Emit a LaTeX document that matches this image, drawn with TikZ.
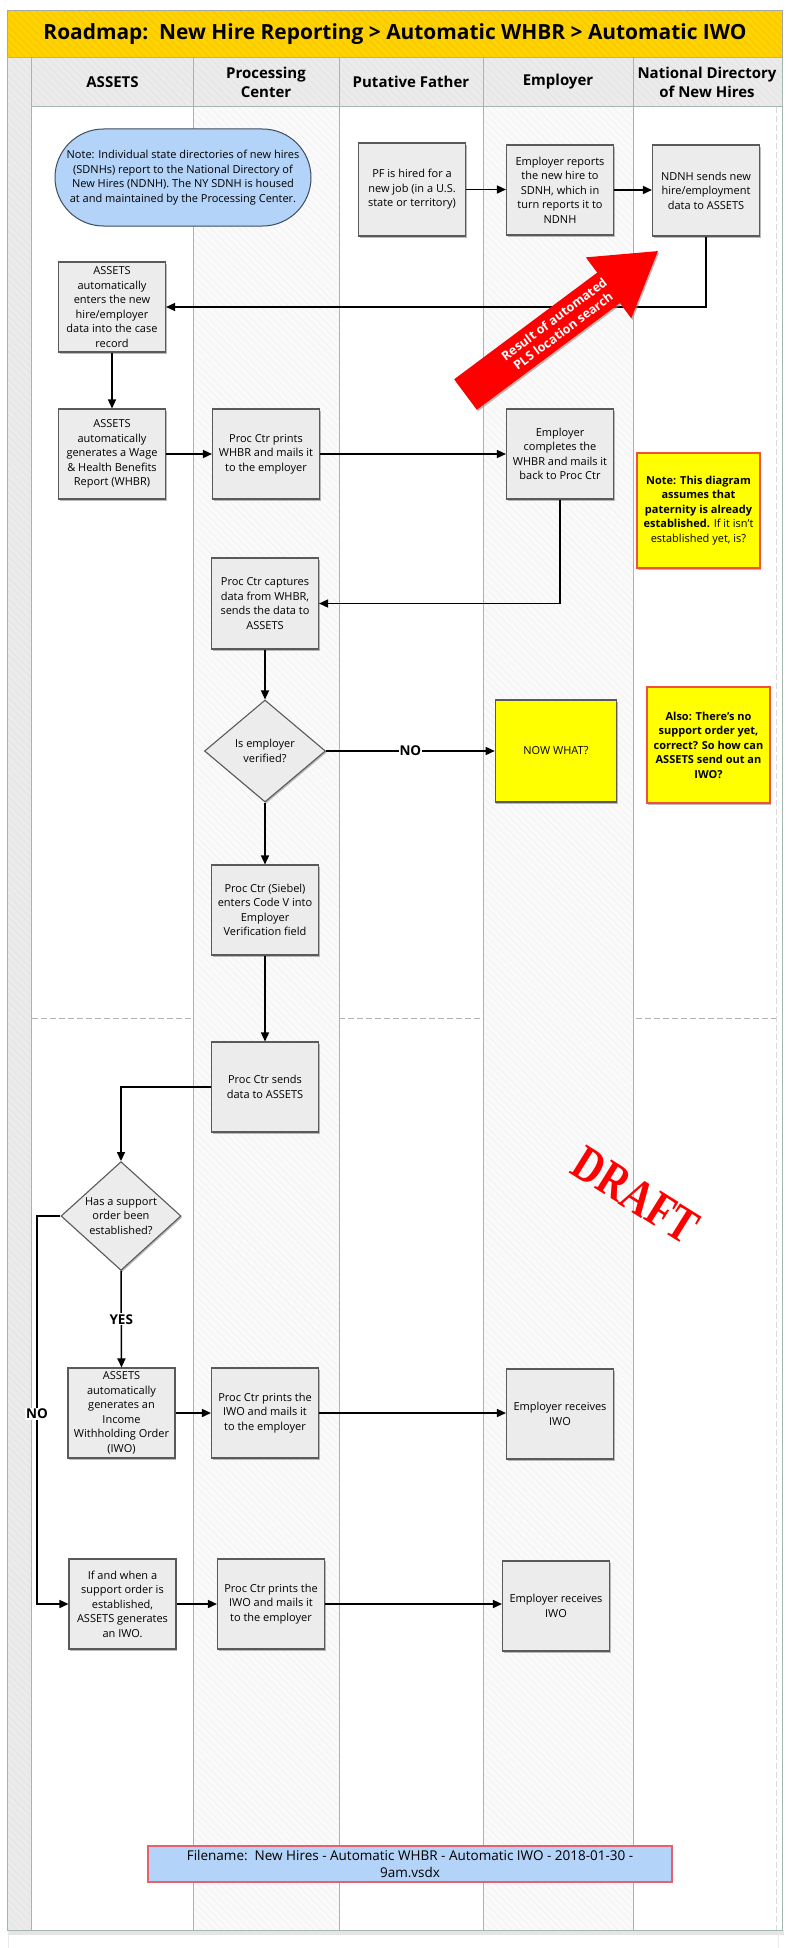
\documentclass[tikz,border=0pt]{standalone}
\usepackage{fontspec}
\usepackage{graphicx}
\setmainfont{Open Sans}
\newfontfamily\draftfont{Liberation Serif}
\usetikzlibrary{arrows.meta,shapes.geometric,shapes.misc,shadows,patterns.meta}
\definecolor{titlefill}{HTML}{FFD200}
\definecolor{titlehatch}{HTML}{F2C400}
\definecolor{headfill}{HTML}{EBEBEB}
\definecolor{hatchcol}{HTML}{E2E2E2}
\definecolor{lanehatch}{HTML}{F1F1F1}
\definecolor{laneline}{HTML}{A5B6AF}
\definecolor{boxfill}{HTML}{ECECEC}
\definecolor{boxline}{HTML}{5A5A5A}
\definecolor{noteyellow}{HTML}{FFFF00}
\definecolor{notered}{HTML}{F0503C}
\definecolor{bluefill}{HTML}{B3D3F8}
\definecolor{blueline}{HTML}{3E4C5E}
\definecolor{fileline}{HTML}{E8606C}
\definecolor{arrowred}{HTML}{FF0000}
\newcommand{\myBody}{\fontsize{11}{14.5}\selectfont}
\newcommand{\myBold}{\fontsize{11}{14.5}\selectfont\bfseries}
\newcommand{\myHead}{\fontsize{15}{19}\selectfont\bfseries}
\newcommand{\myTitle}{\fontsize{20.9}{23}\selectfont\bfseries}
\newcommand{\myLbl}{\fontsize{13.5}{15}\selectfont\bfseries}
\newcommand{\myFile}{\fontsize{13.5}{17}\selectfont}
\newcommand{\myArr}{\fontsize{12.5}{15}\selectfont\bfseries}
\begin{document}
\begin{tikzpicture}[x=1pt,y=-1pt,
  hatch/.style={pattern={Lines[angle=-45,distance=5pt,line width=0.6pt]},pattern color=#1},
  shade/.style={drop shadow={shadow xshift=1.2pt,shadow yshift=-1.6pt,fill=black!45,opacity=0.6}},
  proc/.style={shade,draw=boxline,line width=1.1pt,fill=boxfill,minimum width=107pt,minimum height=90pt,align=center,inner sep=1pt,font=\myBody},
  decision/.style={shade,diamond,draw=boxline,line width=1.1pt,fill=boxfill,minimum width=121pt,minimum height=102pt,align=center,inner sep=0pt,font=\myBody},
  notebox/.style={shade,draw=notered,line width=2pt,fill=noteyellow,minimum width=123pt,align=center,inner sep=1pt,font=\myBody},
  flow/.style={line width=1.5pt,-{Triangle[length=9pt,width=8pt]}},
  lbl/.style={fill=white,inner sep=1pt,font=\myLbl},
  hdr/.style={font=\myHead,align=center}]
\useasboundingbox (0,0) rectangle (789,1948);
\fill[white] (0,0) rectangle (789,1948);
% page shadow
\fill[black!10] (9,1930) rectangle (784,1935);
\draw[black!8,line width=0.6pt] (8,1930) -- (8,1948) (778,1930) -- (778,1948);
% title bar
\fill[titlefill] (7.5,10.7) rectangle (782,57.7);
\fill[hatch=titlehatch] (7.5,10.7) rectangle (782,57.7);
\draw[black!35,line width=0.8pt] (7.5,10.7) rectangle (782,57.7);
% left strip
\fill[headfill] (7.5,57.7) rectangle (31.7,1930);
\fill[hatch=hatchcol] (7.5,57.7) rectangle (31.7,1930);
% header row
\fill[headfill] (31.7,57.7) rectangle (782,107);
\fill[hatch=hatchcol] (31.7,57.7) rectangle (782,107);
% hatched lanes
\fill[white!98!black] (193.3,107) rectangle (339,1930);
\fill[hatch=lanehatch] (193.3,107) rectangle (339,1930);
\fill[white!98!black] (483,107) rectangle (633,1930);
\fill[hatch=lanehatch] (483,107) rectangle (633,1930);
% dashed separators
\draw[black!30,line width=0.9pt,dash pattern=on 6pt off 3pt] (31.7,1018) -- (193.3,1018);
\draw[black!30,line width=0.9pt,dash pattern=on 6pt off 3pt] (339,1018) -- (480,1018);
\draw[black!30,line width=0.9pt,dash pattern=on 6pt off 3pt] (636,1018) -- (778,1018);
\draw[black!15,line width=0.6pt,dash pattern=on 6pt off 3pt] (776,107) -- (776,1930);
% lane lines
\draw[laneline,line width=1pt] (7.5,57.7) rectangle (782,1930);
\foreach \lx in {31.7,193.3,339,483,633} \draw[laneline,line width=1pt] (\lx,57.7) -- (\lx,1930);
\draw[laneline,line width=1pt] (31.7,107) -- (782,107);
% title and headers
\node[font=\myTitle] (title) at (395,34) {Roadmap:\ \ New Hire Reporting > Automatic WHBR > Automatic IWO};
\node[hdr] (hA) at (112.5,82) {ASSETS};
\node[hdr] (hP) at (266,82) {Processing\\Center};
\node[hdr] (hF) at (411,82) {Putative Father};
\node[hdr] (hE) at (558,82) {Employer};
\node[hdr] (hN) at (707,82) {National Directory\\of New Hires};
% nodes
\node[rounded rectangle,draw=blueline,line width=1pt,fill=bluefill,minimum width=258pt,minimum height=97pt,align=center,inner sep=1pt,font=\myBody] (note) at (183,177.5)
  {Note: Individual state directories of new hires\\(SDNHs) report to the National Directory of\\New Hires (NDNH). The NY SDNH is housed\\at and maintained by the Processing Center.};
\node[proc,minimum height=93pt] (pf) at (412,189.5) {PF is hired for a\\new job (in a U.S.\\state or territory)};
\node[proc] (emp1) at (560,190) {Employer reports\\the new hire to\\SDNH, which in\\turn reports it to\\NDNH};
\node[proc,minimum height=91pt] (ndnh1) at (706,190.5) {NDNH sends new\\hire/employment\\data to ASSETS};
\node[proc] (a1) at (112,307) {ASSETS\\automatically\\enters the new\\hire/employer\\data into the case\\record};
\node[proc] (a2) at (112,454) {ASSETS\\automatically\\generates a Wage\\\& Health Benefits\\Report (WHBR)};
\node[proc] (p1) at (266,454) {Proc Ctr prints\\WHBR and mails it\\to the employer};
\node[proc] (emp2) at (560,454) {Employer\\completes the\\WHBR and mails it\\back to Proc Ctr};
\node[notebox,minimum height=115pt] (n1) at (698.5,510.5) {\myBold Note: This diagram\\\myBold assumes that\\\myBold paternity is already\\{\myBold established.} If it isn’t\\established yet, is?};
\node[proc,minimum height=91pt] (p2) at (265,603.5) {Proc Ctr captures\\data from WHBR,\\sends the data to\\ASSETS};
\node[decision] (d1) at (265,751) {Is employer\\verified?};
\node[shade,draw=boxline,line width=1.1pt,fill=noteyellow,minimum width=121.5pt,minimum height=102pt,font=\myBody] (nowwhat) at (556,751) {NOW WHAT?};
\node[notebox,minimum height=116pt,font=\myBold] (also) at (708.5,745) {Also: There’s no\\support order yet,\\correct? So how can\\ASSETS send out an\\IWO?};
\node[proc] (p3) at (265,910) {Proc Ctr (Siebel)\\enters Code V into\\Employer\\Verification field};
\node[proc] (p4) at (265,1087) {Proc Ctr sends\\data to ASSETS};
\node[decision,minimum width=120pt,minimum height=103pt] (d2) at (121,1216) {Has a support\\order been\\established?};
\node[proc] (a3) at (121.5,1413) {ASSETS\\automatically\\generates an\\Income\\Withholding Order\\(IWO)};
\node[proc] (p5) at (265,1413) {Proc Ctr prints the\\IWO and mails it\\to the employer};
\node[proc] (emp3) at (560,1414) {Employer receives\\IWO};
\node[proc] (a4) at (122.5,1604) {If and when a\\support order is\\established,\\ASSETS generates\\an IWO.};
\node[proc] (p6) at (271,1604) {Proc Ctr prints the\\IWO and mails it\\to the employer};
\node[proc] (emp4) at (556,1606) {Employer receives\\IWO};
\node[draw=fileline,line width=1.5pt,fill=bluefill,minimum width=524pt,minimum height=36pt,align=center,inner sep=1pt,font=\myFile] (fname) at (410,1864)
  {Filename:\ \ New Hires - Automatic WHBR - Automatic IWO - 2018-01-30 -\\9am.vsdx};
% connectors
\draw[flow] (pf.east) -- (pf.east -| emp1.west);
\draw[flow] (emp1.east) -- (emp1.east -| ndnh1.west);
\draw[flow] (ndnh1.south) |- (a1.east);
\draw[flow] (a1.south) -- (a2.north);
\draw[flow] (a2.east) -- (p1.west);
\draw[flow] (p1.east) -- (emp2.west);
\draw[flow] (emp2.south) |- (p2.east);
\draw[flow] (p2.south) -- (d1.north);
\draw[flow] (d1.east) -- node[lbl] (no1) {NO} (nowwhat.west);
\draw[flow] (d1.south) -- (p3.north);
\draw[flow] (p3.south) -- (p4.north);
\draw[flow] (p4.west) -| (d2.north);
\draw[flow] (d2.south) -- node[lbl] (yes1) {YES} (a3.north);
\coordinate (nocorner) at (37,1216);
\draw[flow] (d2.west) -- (nocorner) |- (a4.west);
\node[lbl] (no2) at (37,1414) {NO};
\draw[flow] (a3.east) -- (p5.west);
\draw[flow] (p5.east) -- (p5.east -| emp3.west);
\draw[flow] (a4.east) -- (p6.west);
\draw[flow] (p6.east) -- (p6.east -| emp4.west);
% red arrow
\begin{scope}[shift={(465.5,394.5)},rotate=36.7]
  \fill[arrowred,shade] (0,-19) -- (178.5,-19) -- (178.5,-38) -- (240,0) -- (178.5,38) -- (178.5,19) -- (0,19) -- cycle;
  \node[text=white,font=\myArr,align=center,rotate=36.7,inner sep=0pt] (pls) at (116,0) {Result of automated\\PLS location search};
\end{scope}
% draft stamp
\node[text=red,rotate=-32,inner sep=0pt] (draft) at (636,1195) {\scalebox{0.95}[1.2]{\draftfont\bfseries\fontsize{42}{42}\selectfont DRAFT}};
\end{tikzpicture}
\end{document}
